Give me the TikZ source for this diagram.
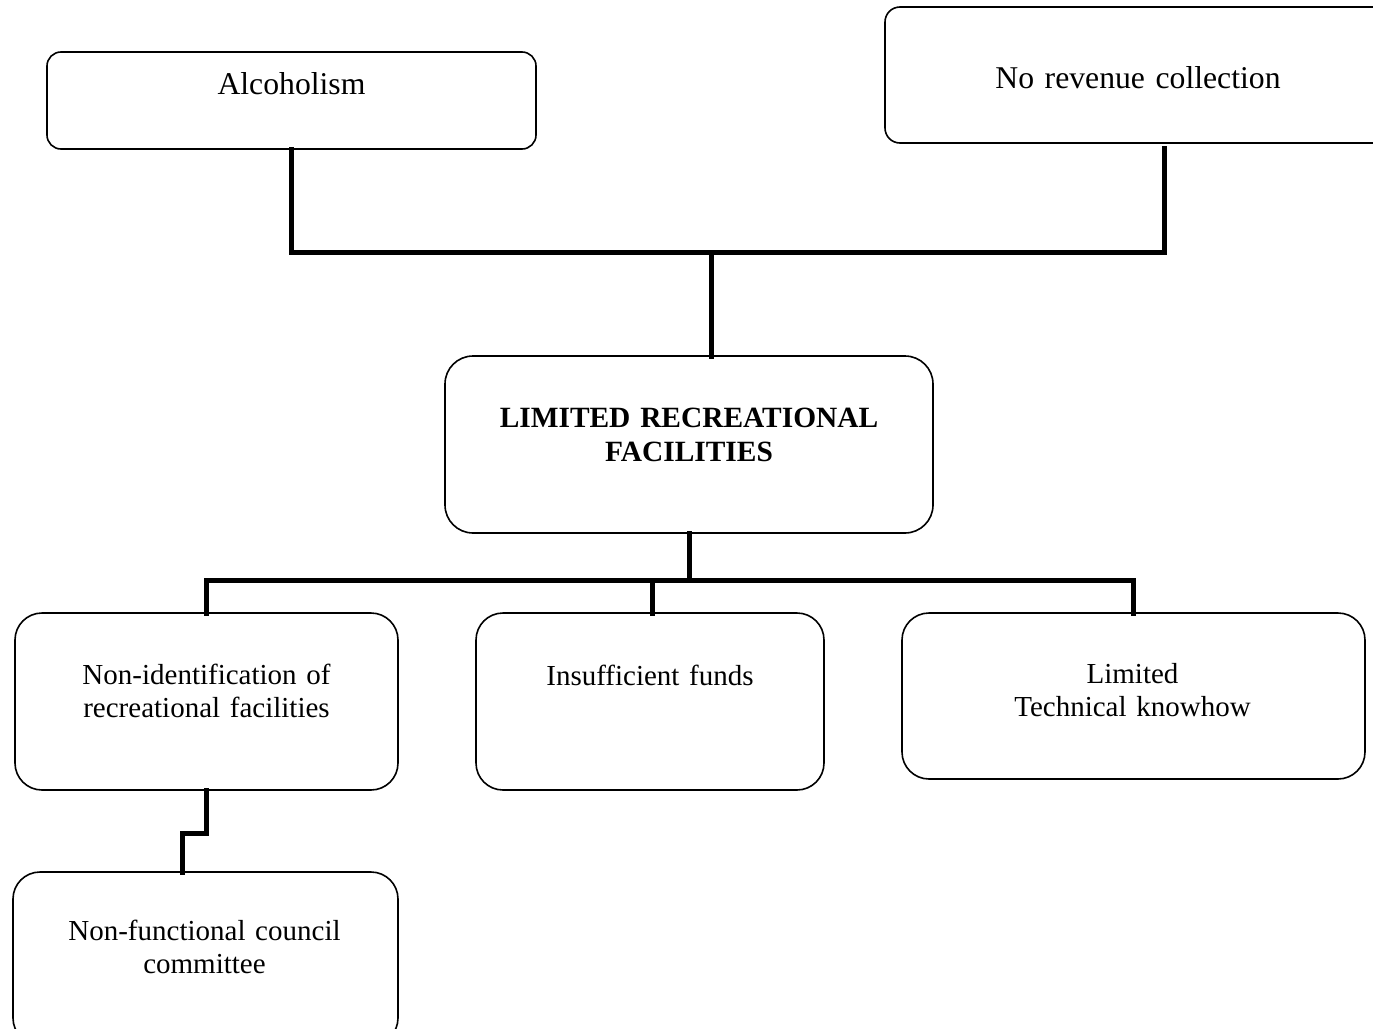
\documentclass[tikz,border=0pt]{standalone}
\usepackage{fontspec}
\setmainfont{Liberation Serif}
\begin{document}
\begin{tikzpicture}[x=1pt,y=-1pt,
  box/.style={draw=black, line width=1.6pt, rectangle, inner sep=0pt, outer sep=0pt},
  lbl/.style={anchor=base, align=center, inner sep=0pt, text width=480pt, font=\fontsize{29}{33.5}\selectfont},
  biglbl/.style={lbl, font=\fontsize{31.7}{33.5}\selectfont},
  conn/.style={draw=black, line width=5pt, line join=miter, line cap=rect}]
\useasboundingbox (0,0) rectangle (1373,1028);
\clip (0,0) rectangle (1373,1028);
\fill[white] (0,0) rectangle (1373,1028);
% boxes
\node[box, rounded corners=14pt, minimum width=489pt, minimum height=97pt] (alc) at (291.5,100.5) {};
\node[box, rounded corners=15pt, minimum width=510pt, minimum height=136pt] (rev) at (1140,75) {};
\node[box, rounded corners=28pt, minimum width=488pt, minimum height=177pt] (ctr) at (689,444.5) {};
\node[box, rounded corners=27pt, minimum width=383pt, minimum height=177pt] (nid) at (206.5,701.5) {};
\node[box, rounded corners=27pt, minimum width=348pt, minimum height=177pt] (ins) at (650,701.5) {};
\node[box, rounded corners=27pt, minimum width=463pt, minimum height=166pt] (lim) at (1133.5,696) {};
\node[box, rounded corners=27pt, minimum width=385pt, minimum height=173pt] (nfc) at (205.5,958.5) {};
% texts
\node[biglbl] (alcT) at (291.5,94) {Alcoholism};
\node[biglbl] (revT) at (1138,88) {No revenue collection};
\node[lbl, font=\fontsize{29.4}{34}\selectfont\bfseries] (ctrT) at (689,427) {LIMITED RECREATIONAL\\FACILITIES};
\node[lbl] (nidT) at (206.5,684) {Non-identification of\\recreational facilities};
\node[lbl] (insT) at (650,685) {Insufficient funds};
\node[lbl] (limT) at (1132.5,683) {Limited\\Technical knowhow};
\node[lbl] (nfcT) at (204.5,940) {Non-functional council\\committee};
% connectors
\coordinate (j1) at (711,252);
\coordinate (revb) at (1164,148);
\coordinate (j2) at (689,580);
\coordinate (k1) at (182,833);
\coordinate (insb) at (652,613);
\draw[conn] (alc.south) |- (j1) -| (revb);
\draw[conn] (j1) -- (j1 |- ctr.north);
\draw[conn] (ctr.south) -- (j2);
\draw[conn] (nid.north) |- (j2) -| (lim.north);
\draw[conn] (insb) -- (insb |- j2);
\draw[conn] (nid.south) |- (k1) -- (k1 |- nfc.north);
\end{tikzpicture}
\end{document}
